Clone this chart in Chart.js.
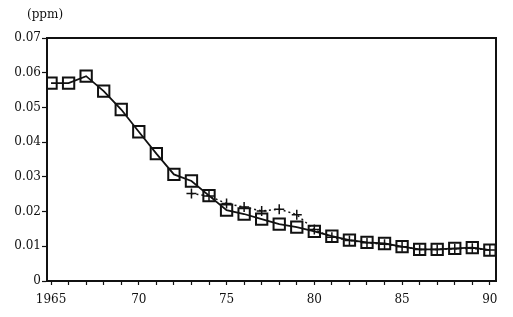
<!DOCTYPE html>
<html>
<head>
<meta charset="utf-8">
<script src="https://cdn.jsdelivr.net/npm/chart.js@4/dist/chart.umd.min.js"></script>
<style>
  html, body { margin: 0; padding: 0; background: #fff; }
  #wrap { width: 513px; height: 317px; }
</style>
</head>
<body>
<div id="wrap"><canvas id="chart" width="513" height="317"></canvas></div>
<script>
let years = [1965, 1966, 1967, 1968, 1969, 1970, 1971, 1972, 1973, 1974, 1975, 1976, 1977,
             1978, 1979, 1980, 1981, 1982, 1983, 1984, 1985, 1986, 1987, 1988, 1989, 1990];
let squareValues = [0.0570, 0.0570, 0.0590, 0.0547, 0.0494, 0.0430, 0.0367, 0.0307, 0.0288, 0.0246,
                    0.0204, 0.0193, 0.0178, 0.0164, 0.0155, 0.0143, 0.0129, 0.0118, 0.0111, 0.0108,
                    0.0099, 0.0091, 0.0091, 0.0094, 0.0096, 0.0089];
let plusYears = [1973, 1974, 1975, 1976, 1977, 1978, 1979, 1980, 1981, 1982, 1983, 1984, 1985,
                 1986, 1987, 1988, 1989, 1990];
let plusValues = [0.0252, 0.0245, 0.0223, 0.0213, 0.0202, 0.0207, 0.0191, 0.0148, 0.0126, 0.0117,
                  0.0110, 0.0106, 0.0099, 0.0091, 0.0091, 0.0093, 0.0094, 0.0089];
let labeledYears = [1965, 1970, 1975, 1980, 1985, 1990];
let yTicks = [0, 0.01, 0.02, 0.03, 0.04, 0.05, 0.06, 0.07];

const font = { family: 'DejaVu Serif', size: 12 };

// frame around the plot and the unit label
const framePlugin = {
    id: 'frame',
    afterDraw(chart) {
        const { ctx, chartArea: a } = chart;
        ctx.save();
        ctx.strokeStyle = '#111';
        ctx.lineWidth = 2;
        ctx.strokeRect(a.left, a.top, a.right - a.left, a.bottom - a.top);
        ctx.fillStyle = '#111';
        ctx.font = '12px "DejaVu Serif"';
        ctx.textAlign = 'left';
        ctx.textBaseline = 'middle';
        ctx.fillText('(ppm)', a.left - 20, a.top - 23);
        ctx.restore();
    }
};

let ctx = document.getElementById('chart').getContext('2d');
let chart = new Chart(ctx, {
    type: 'line',
    data: {
        datasets: [{
            data: years.map((y, i) => ({ x: y, y: squareValues[i] })),
            borderColor: '#111',
            borderWidth: 1.8,
            pointStyle: 'rect',
            pointRadius: 8,
            pointBorderWidth: 2,
            pointBorderColor: '#111',
            pointBackgroundColor: 'rgba(0,0,0,0)',
            tension: 0
        }, {
            data: plusYears.map((y, i) => ({ x: y, y: plusValues[i] })),
            borderColor: '#111',
            borderWidth: 1.5,
            borderDash: [2, 3],
            pointStyle: 'cross',
            pointRadius: 5,
            pointBorderWidth: 1.5,
            pointBorderColor: '#111',
            tension: 0
        }]
    },
    options: {
        responsive: false,
        animation: false,
        plugins: { legend: { display: false }, tooltip: { enabled: false } },
        layout: { padding: { top: 38, right: 17, left: 0, bottom: 0 } },
        scales: {
            x: {
                type: 'linear',
                min: 1964.77,
                max: 1990.35,
                afterBuildTicks: axis => { axis.ticks = years.map(v => ({ value: v })); },
                afterFit: s => { s.height = 36; },
                border: { display: true, color: '#111', width: 2 },
                grid: { drawOnChartArea: false, tickLength: 4, color: '#111', tickWidth: 1.2 },
                ticks: {
                    color: '#111', font, padding: 8, maxRotation: 0, autoSkip: false,
                    callback: v => {
                        if (!labeledYears.includes(v)) return '';
                        return v === 1965 ? '1965' : String(v).slice(2);
                    }
                }
            },
            y: {
                min: 0,
                max: 0.07,
                afterBuildTicks: axis => { axis.ticks = yTicks.map(v => ({ value: v })); },
                afterFit: s => { s.width = 47; },
                border: { display: true, color: '#111', width: 2 },
                grid: { drawOnChartArea: false, tickLength: 5, color: '#111', tickWidth: 1.2 },
                ticks: {
                    color: '#111', font, padding: 1,
                    callback: v => v === 0 ? '0' : v.toFixed(2)
                }
            }
        }
    },
    plugins: [framePlugin]
});
</script>
</body>
</html>
